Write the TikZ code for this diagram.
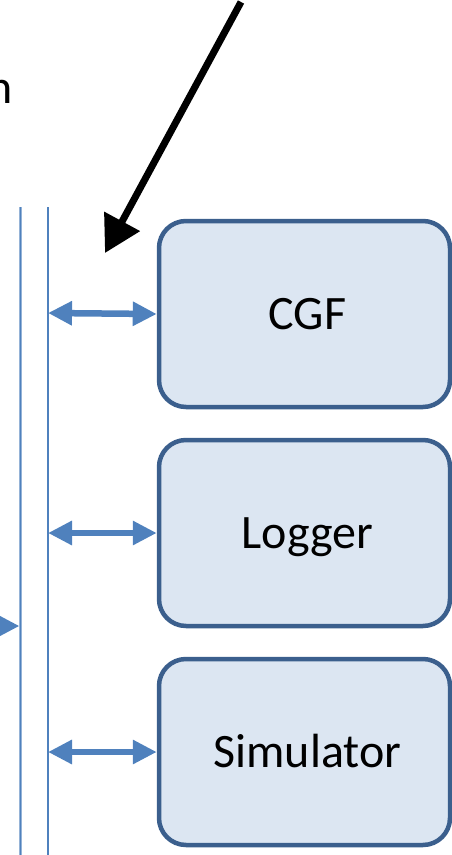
\documentclass[tikz,border=0pt]{standalone}
\usepackage{fontspec}
\setmainfont{Carlito}
\usetikzlibrary{arrows.meta}
\definecolor{busblue}{HTML}{4F81BD}
\definecolor{buslight}{HTML}{95B3D7}
\definecolor{boxedge}{HTML}{3B5F8D}
\definecolor{boxfill}{HTML}{DCE6F2}
\tikzset{
  module/.style={draw=boxedge, fill=boxfill, line width=4.5pt, rounded corners=27pt,
    minimum width=291pt, minimum height=186pt, inner sep=0pt,
    text height=31pt, text depth=0pt,
    font=\fontsize{48}{54}\selectfont, text=black},
  link/.style={draw=busblue, line width=6.5pt,
    {Triangle[length=24pt,width=23pt]}-{Triangle[length=24pt,width=23pt]}},
  inlink/.style={draw=busblue, line width=6.5pt, -{Triangle[length=24pt,width=23pt]}},
  pointer/.style={draw=black, line width=7pt, -{Triangle[length=36pt,width=39pt]}},
}
\begin{document}
\begin{tikzpicture}[x=1pt,y=-1pt]
  \useasboundingbox (0,0) rectangle (452,855);
  \clip (0,0) rectangle (452,855);

  % fragment of a caption at the top left
  \node[anchor=base east, inner sep=0pt, font=\fontsize{48}{54}\selectfont] (cap) at (13,103) {n};

  % the two bus lines
  \coordinate (busAtop) at (20.5,207);
  \coordinate (busAbot) at (20.5,860);
  \coordinate (busBtop) at (48,207);
  \coordinate (busBbot) at (48,860);
  \draw[buslight, line width=3.6pt] (busAtop) -- (busAbot);
  \draw[busblue, line width=1.4pt] (busAtop) -- (busAbot);
  \draw[busblue, line width=2pt] (busBtop) -- (busBbot);

  % modules
  \node[module] (cgf) at (304.5,314) {\hspace{6pt}CGF};
  \node[module] (logger) at (304.5,533) {\hspace{6pt}Logger};
  \node[module] (sim) at (304.5,752) {\hspace{6pt}Simulator};

  % links between the inner bus line and the modules
  \coordinate (j1) at (48,313);
  \coordinate (j2) at (48,533);
  \coordinate (j3) at (48,752);
  \draw[link] (j1) -- (cgf.west);
  \draw[link] (j2) -- (logger.west);
  \draw[link] (j3) -- (sim.west);

  % incoming arrow reaching the outer bus line from the left
  \coordinate (inS) at (-40,626);
  \coordinate (inE) at (19.5,626);
  \draw[inlink] (inS) -- (inE);

  % black pointer arrow
  \coordinate (pS) at (241,2);
  \coordinate (pE) at (105,253);
  \draw[pointer] (pS) -- (pE);
\end{tikzpicture}
\end{document}
